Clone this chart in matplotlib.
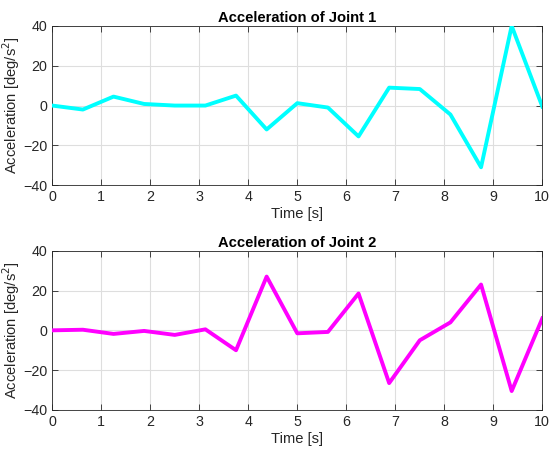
import numpy as np
from matplotlib import pyplot as plt

plt.rcParams['font.family'] = ['Liberation Sans', 'DejaVu Sans']

time = np.linspace(0, 10, 17)
accel_joint1 = [0, -2, 4.5, 0.8, 0, 0, 5, -12, 1.2, -1, -15.5, 9, 8.3, -4.5, -31, 40, -0.5]
accel_joint2 = [0, 0.3, -1.8, -0.3, -2.3, 0.5, -10, 27, -1.5, -0.8, 18.5, -26.5, -5, 4, 23, -30.5, 6]
titles = ["Acceleration of Joint 1", "Acceleration of Joint 2"]
colors = ["#00ffff", "#ff00ff"]

fig = plt.figure(figsize=(5.5, 4.55), dpi=100)
ax1 = fig.add_axes([0.095, 0.593, 0.891, 0.35])
ax2 = fig.add_axes([0.095, 0.099, 0.891, 0.35])

dark = "#262626"
fs = 10.6
for ax, y, title, c in zip([ax1, ax2], [accel_joint1, accel_joint2], titles, colors):
    ax.plot(time, y, color=c, linewidth=2.8, zorder=3)
    ax.set_xlim(0, 10)
    ax.set_ylim(-40, 40)
    ax.set_xticks(range(0, 11))
    ax.set_yticks([-40, -20, 0, 20, 40])
    ax.grid(True, color="#dedede", linewidth=0.8)
    ax.set_axisbelow(True)
    ax.tick_params(direction="in", top=True, right=True, length=4, width=0.6,
                   colors=dark, labelsize=10.3, labelcolor=dark)
    for s in ax.spines.values():
        s.set_color(dark)
        s.set_linewidth(0.6)
    ax.set_title(title, fontsize=fs, fontweight="bold", pad=3)
    ax.set_xlabel("Time [s]", fontsize=fs, color=dark, labelpad=2)
    ax.set_ylabel("Acceleration [deg/s$^2$]", fontsize=fs, color=dark)
    ax.yaxis.set_label_coords(-0.061, 0.5)

fig.savefig("out.png", dpi=100)
